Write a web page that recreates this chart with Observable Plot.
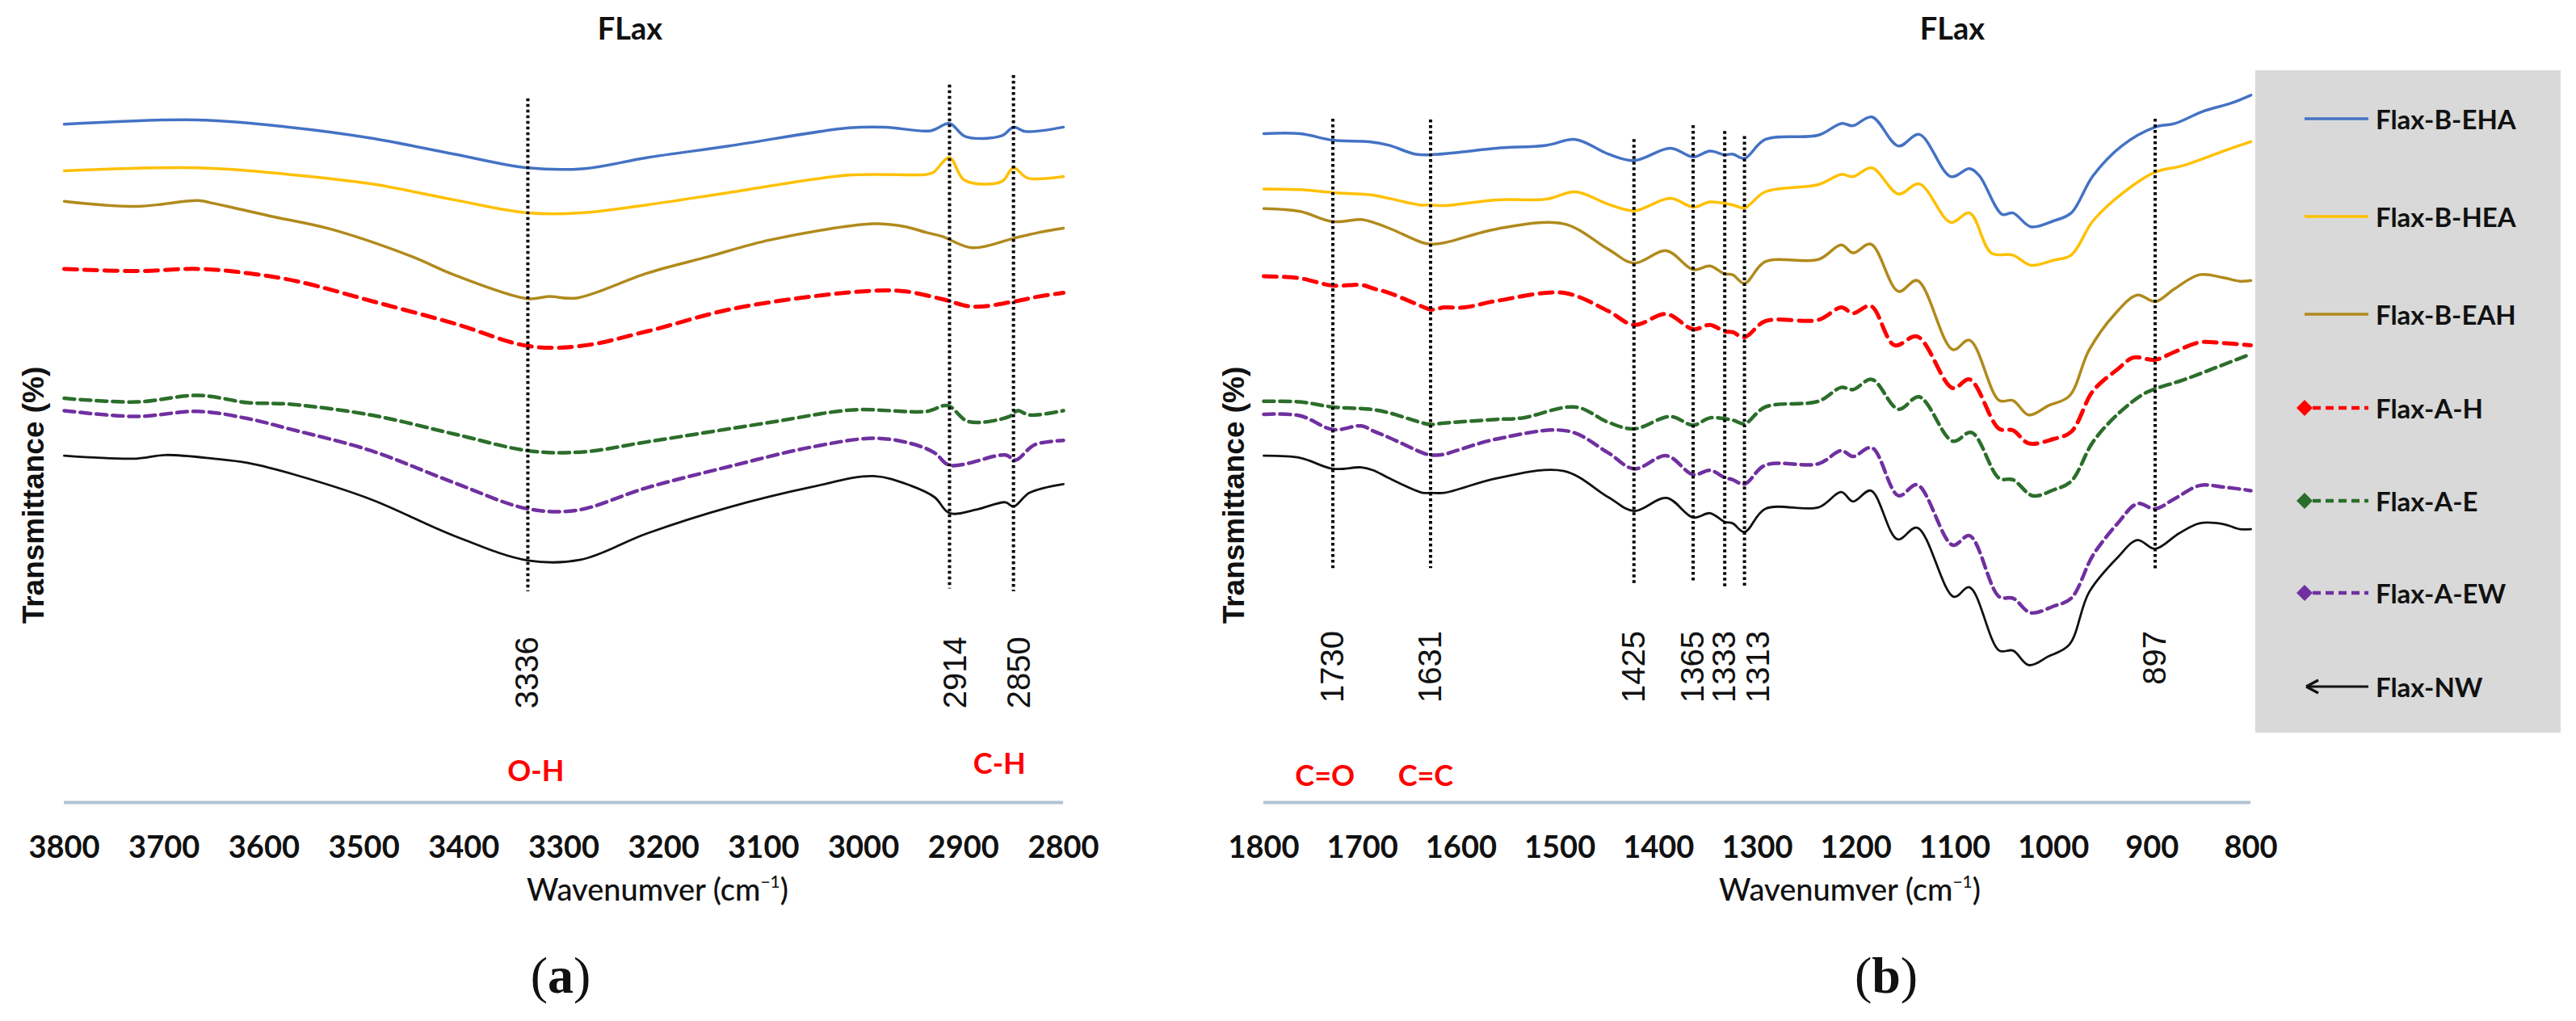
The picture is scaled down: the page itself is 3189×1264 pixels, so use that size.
<!DOCTYPE html>
<html><head><meta charset="utf-8">
<script src="https://cdn.jsdelivr.net/npm/d3@7"></script>
<script src="https://cdn.jsdelivr.net/npm/@observablehq/plot@0.6"></script>
<style>
html,body{margin:0;padding:0;background:#fff;}
#page{position:relative;width:3189px;height:1264px;overflow:hidden;background:#fff;font-family:Lato,sans-serif;color:#111;}
.abs{position:absolute;white-space:nowrap;line-height:1;}
.plot{position:absolute;top:0;}
.plot svg{overflow:visible;max-width:none;}
</style></head><body><div id="page"></div>
<script>
// ---------- DATA ----------
const seriesNames = ["Flax-B-EHA","Flax-B-HEA","Flax-B-EAH","Flax-A-H","Flax-A-E","Flax-A-EW","Flax-NW"];
const ticksA = [3800,3700,3600,3500,3400,3300,3200,3100,3000,2900,2800];
const ticksB = [1800,1700,1600,1500,1400,1300,1200,1100,1000,900,800];

// Panel (a): [wavenumber, transmittance (arbitrary offset %)]
const a_BEHA = [[3800,93.3],[3666,93.9],[3575,92.9],[3493,91.4],[3410,89.2],[3336,87.3],[3279,87.2],[3217,88.7],[3135,90.3],[3015,92.8],[2978,92.9],[2933,92.4],[2914,93.4],[2898,91.6],[2862,91.7],[2850,92.9],[2838,92.3],[2800,92.9]];
const a_BHEA = [[3800,86.9],[3666,87.3],[3575,86.4],[3493,85.1],[3410,82.9],[3336,81.1],[3283,81.1],[3217,82.2],[3135,83.9],[3015,86.3],[2937,86.4],[2930,86.7],[2914,88.7],[2899,85.6],[2862,85.4],[2850,87.3],[2836,85.9],[2800,86.1]];
const a_BEAH = [[3800,82.7],[3728,82.0],[3666,82.8],[3650,82.4],[3595,80.7],[3534,78.9],[3452,75.1],[3410,72.6],[3336,69.3],[3315,69.6],[3287,69.4],[3217,72.8],[3155,75.1],[3093,77.4],[2990,79.6],[2958,79.2],[2937,78.4],[2922,77.9],[2891,76.3],[2850,77.6],[2825,78.4],[2800,79.0]];
const a_AH = [[3800,73.4],[3728,73.1],[3666,73.4],[3616,72.8],[3567,71.7],[3493,69.0],[3410,65.9],[3336,62.8],[3283,62.8],[3217,64.8],[3135,67.8],[3052,69.6],[2990,70.4],[2958,70.3],[2920,69.2],[2891,68.2],[2850,68.9],[2825,69.6],[2800,70.1]];
const a_AE = [[3800,55.6],[3728,55.1],[3666,56.0],[3616,55.0],[3575,54.8],[3493,53.3],[3410,50.7],[3336,48.4],[3283,48.2],[3217,49.6],[3093,52.3],[3011,54.0],[2937,53.8],[2916,54.6],[2895,52.4],[2854,53.1],[2846,53.9],[2834,53.3],[2800,53.9]];
const a_AEW = [[3800,53.9],[3728,53.1],[3666,53.8],[3616,52.8],[3575,51.4],[3493,48.4],[3410,44.0],[3336,40.4],[3287,40.2],[3217,43.3],[3135,46.2],[3052,48.9],[2990,50.1],[2953,49.4],[2929,48.1],[2914,46.4],[2858,47.8],[2848,47.1],[2829,49.2],[2800,49.8]];
const a_NW = [[3800,47.7],[3728,47.3],[3699,47.8],[3650,47.3],[3616,46.7],[3567,45.0],[3493,41.7],[3410,36.7],[3336,33.3],[3283,33.4],[3217,37.0],[3135,40.6],[3052,43.4],[2990,44.9],[2953,43.6],[2929,42.0],[2914,39.8],[2887,40.3],[2858,41.3],[2850,40.7],[2834,42.6],[2800,43.8]];

// Panel (b)
const b_BEHA = [[1800,92.0],[1763,92.0],[1730,91.1],[1693,90.9],[1673,90.4],[1647,89.2],[1631,89.1],[1605,89.4],[1564,90.0],[1514,90.4],[1484,91.2],[1451,89.2],[1425,88.3],[1388,90.0],[1365,88.8],[1348,89.6],[1333,89.1],[1325,89.2],[1313,88.6],[1292,91.2],[1238,91.8],[1215,93.4],[1203,93.1],[1184,94.3],[1157,90.3],[1136,91.9],[1104,86.1],[1085,87.2],[1075,86.2],[1052,80.9],[1041,81.1],[1023,79.2],[1000,80.0],[982,81.1],[960,86.2],[931,90.3],[897,92.9],[877,93.4],[848,95.1],[820,96.2],[800,97.3]];
const b_BHEA = [[1800,84.4],[1763,84.3],[1730,83.9],[1693,83.6],[1673,83.1],[1642,82.2],[1631,82.2],[1617,82.1],[1564,82.9],[1514,83.0],[1484,84.0],[1451,82.3],[1425,81.4],[1388,83.1],[1365,81.9],[1348,82.6],[1325,82.2],[1313,81.8],[1292,84.0],[1238,85.0],[1215,86.4],[1203,86.1],[1184,87.3],[1157,83.7],[1136,85.1],[1104,79.8],[1085,81.1],[1063,75.6],[1041,75.3],[1023,73.9],[1000,74.6],[982,75.3],[960,80.0],[931,83.7],[897,86.7],[869,87.6],[828,89.6],[800,90.9]];
const b_BEAH = [[1800,81.7],[1763,81.3],[1730,79.9],[1701,80.2],[1689,79.8],[1673,79.0],[1639,77.0],[1631,76.8],[1617,77.0],[1564,78.9],[1496,79.6],[1451,76.1],[1425,74.2],[1392,75.9],[1365,73.3],[1348,73.8],[1333,72.7],[1325,72.6],[1313,71.4],[1292,74.4],[1238,74.7],[1215,76.7],[1203,75.6],[1185,76.8],[1157,70.3],[1138,71.8],[1102,62.3],[1085,63.6],[1055,55.3],[1041,55.3],[1025,53.3],[1005,54.6],[984,55.9],[964,62.2],[939,67.0],[915,69.8],[897,68.9],[877,70.7],[852,72.6],[828,72.2],[811,71.7],[800,71.8]];
const b_AH = [[1800,72.4],[1763,72.1],[1730,71.1],[1701,71.2],[1689,70.7],[1673,70.1],[1639,68.2],[1631,67.8],[1617,68.1],[1597,68.1],[1564,69.0],[1496,70.1],[1451,67.6],[1425,65.7],[1392,67.2],[1365,65.1],[1348,65.7],[1333,64.8],[1325,64.7],[1313,64.0],[1292,66.2],[1238,66.4],[1215,68.1],[1203,67.3],[1185,68.3],[1161,62.9],[1138,64.1],[1102,57.0],[1085,58.2],[1055,51.4],[1041,51.2],[1025,49.4],[1000,50.0],[982,51.0],[960,56.6],[935,59.6],[919,61.2],[897,60.9],[877,62.0],[852,63.3],[828,63.2],[800,62.9]];
const b_AE = [[1800,55.2],[1763,55.1],[1730,54.4],[1693,54.1],[1673,53.6],[1639,52.2],[1631,52.0],[1617,52.2],[1564,52.7],[1538,52.9],[1484,54.4],[1451,52.3],[1425,51.4],[1388,53.1],[1365,51.9],[1348,52.9],[1325,52.6],[1313,52.1],[1292,54.4],[1238,55.2],[1215,57.1],[1203,56.8],[1184,58.2],[1157,54.1],[1136,55.8],[1102,49.7],[1083,50.9],[1055,44.6],[1041,44.4],[1021,42.2],[1000,43.0],[982,44.2],[960,49.6],[935,53.4],[910,56.1],[897,56.9],[869,58.1],[836,59.8],[800,61.7]];
const b_AEW = [[1800,53.4],[1763,53.2],[1730,51.3],[1701,51.8],[1689,51.1],[1673,50.2],[1639,48.1],[1631,47.8],[1617,47.9],[1605,48.4],[1564,50.0],[1492,51.1],[1451,48.1],[1425,45.9],[1392,47.7],[1365,45.1],[1348,45.7],[1333,44.7],[1325,44.4],[1313,43.8],[1292,46.4],[1238,46.6],[1215,48.4],[1203,47.6],[1184,48.8],[1157,42.2],[1138,43.7],[1102,35.4],[1085,36.7],[1055,28.3],[1041,28.1],[1023,26.1],[1000,27.0],[982,28.1],[960,34.0],[935,38.4],[915,41.1],[897,40.4],[877,41.8],[852,43.6],[828,43.4],[800,42.9]];
const b_NW = [[1800,47.7],[1763,47.4],[1730,45.9],[1701,46.1],[1689,45.7],[1673,44.6],[1639,42.6],[1631,42.6],[1617,42.6],[1564,44.6],[1496,45.6],[1451,42.0],[1425,40.1],[1392,41.9],[1365,39.2],[1348,39.8],[1333,38.6],[1325,38.4],[1313,37.2],[1292,40.4],[1238,40.6],[1215,42.7],[1203,41.4],[1185,42.9],[1158,36.2],[1138,37.8],[1101,28.3],[1085,29.6],[1055,20.9],[1041,20.9],[1025,18.9],[1005,20.1],[984,21.7],[964,28.9],[935,33.7],[915,36.1],[897,34.9],[873,37.0],[852,38.4],[828,38.3],[811,37.6],[800,37.6]];

// Marked peaks (dotted guides): wavenumber, top and bottom of guide
const peaksA = [3336, 2914, 2850];
const peakTopA = [96.8, 98.7, 100.0];
const peakBotA = [29.0, 29.4, 29.0];
const peaksB = [1730, 1631, 1425, 1365, 1333, 1313, 897];
const peakTopB = [94.0, 93.9, 91.2, 93.1, 92.3, 91.6, 94.0];
const peakBotB = [32.2, 32.2, 30.1, 30.1, 29.6, 29.4, 31.8];

// Band assignments
const bandsA = ["O-H", "C-H"];
const bandWnA = [3328, 2864];
const bandsB = ["C=O", "C=C"];
const bandWnB = [1738, 1636];

// ---------- STYLE ----------
const styles = {
  "Flax-B-EHA": {stroke: "#4472C4", strokeWidth: 3.5},
  "Flax-B-HEA": {stroke: "#FFC000", strokeWidth: 3.5},
  "Flax-B-EAH": {stroke: "#B08A1C", strokeWidth: 3.5},
  "Flax-A-H":   {stroke: "#FF0000", strokeWidth: 5, strokeDasharray: "16,9"},
  "Flax-A-E":   {stroke: "#2B6E2B", strokeWidth: 4.5, strokeDasharray: "13,7"},
  "Flax-A-EW":  {stroke: "#7030A0", strokeWidth: 4.5, strokeDasharray: "13,7"},
  "Flax-NW":    {stroke: "#111111", strokeWidth: 2.8}
};

const page = document.getElementById("page");

function tidy(list) {
  return seriesNames.flatMap((n, i) => list[i].map(([wn, t]) => ({series: n, wn, t})));
}
const rowsA = tidy([a_BEHA, a_BHEA, a_BEAH, a_AH, a_AE, a_AEW, a_NW]);
const rowsB = tidy([b_BEHA, b_BHEA, b_BEAH, b_AH, b_AE, b_AEW, b_NW]);

function lineMarks(rows) {
  return seriesNames.slice().reverse().map(n =>
    Plot.line(rows.filter(r => r.series === n), {x: "wn", y: "t", curve: "catmull-rom", ...styles[n]}));
}

function panel({rows, ticks, domain, peaks, tops, bots, bands, bandWn, bandY, labelY, left, width, mL, mR, dxFor}) {
  const peakRows = peaks.map((p, i) => ({wn: p, top: tops[i], bot: bots[i]}));
  const bandRows = bands.map((b, i) => ({label: b, wn: bandWn[i], y: bandY[i]}));
  const plot = Plot.plot({
    width, height: 1080,
    marginLeft: mL, marginRight: mR, marginTop: 93, marginBottom: 87,
    x: {domain},
    y: {domain: [0, 100], axis: null},
    style: {background: "transparent", fontFamily: "Lato, sans-serif", overflow: "visible"},
    marks: [
      Plot.ruleY([0], {stroke: "#B4C3D6", strokeWidth: 4}),
      Plot.axisX({ticks, tickSize: 0, tickPadding: 42, fontSize: 38, fontWeight: "bold", fill: "#111", label: null, tickFormat: d => String(d)}),
      ...lineMarks(rows),
      Plot.ruleX(peakRows, {x: "wn", y1: "top", y2: "bot", stroke: "#000", strokeWidth: 4, strokeDasharray: "3.5,3.5"}),
      Plot.text(peakRows.filter(d => !dxFor.has(d.wn)), {x: "wn", y: () => labelY, text: d => String(d.wn), rotate: -90, textAnchor: "end", fontSize: 40, fontFamily: "Liberation Sans, Arial, sans-serif", fill: "#111"}),
      ...[...dxFor].filter(([k]) => peaks.includes(k)).map(([k, dx]) =>
        Plot.text(peakRows.filter(d => d.wn === k), {x: "wn", y: () => labelY, dx, text: d => String(d.wn), rotate: -90, textAnchor: "end", fontSize: 40, fontFamily: "Liberation Sans, Arial, sans-serif", fill: "#111"})),
      Plot.text(bandRows, {x: "wn", y: "y", text: "label", fill: "#FF0000", fontSize: 36, fontWeight: "bold", fontFamily: "Lato, sans-serif"})
    ]
  });
  const holder = document.createElement("div");
  holder.className = "plot";
  holder.style.left = left + "px";
  holder.style.width = width + "px";
  holder.appendChild(plot);
  page.appendChild(holder);
}

panel({rows: rowsA, ticks: ticksA, domain: [3800, 2800], peaks: peaksA, tops: peakTopA, bots: peakBotA,
  bands: bandsA, bandWn: bandWnA, bandY: [4.2, 5.2], labelY: 22.8, left: 0, width: 1560, mL: 79, mR: 244,
  dxFor: new Map([[2914, 8], [2850, 8]])});
panel({rows: rowsB, ticks: ticksB, domain: [1800, 800], peaks: peaksB, tops: peakTopB, bots: peakBotB,
  bands: bandsB, bandWn: bandWnB, bandY: [3.6, 3.6], labelY: 23.6, left: 1480, width: 1350, mL: 84, mR: 44,
  dxFor: new Map([[1313, 18]])});

// ---------- TEXT ----------
function label(html, cx, cy, css, rot) {
  const d = document.createElement("div");
  d.className = "abs";
  d.innerHTML = html;
  Object.assign(d.style, css);
  d.style.left = cx + "px";
  d.style.top = cy + "px";
  d.style.transform = "translate(-50%,-50%)" + (rot ? " rotate(-90deg)" : "");
  page.appendChild(d);
}
const titleCss = {fontFamily: "Lato, sans-serif", fontWeight: "bold", fontSize: "38px"};
label("FLax", 780, 34, titleCss);
label("FLax", 2417, 34, titleCss);
const yCss = {fontFamily: "Liberation Sans, Arial, sans-serif", fontWeight: "bold", fontSize: "37px"};
label("Transmittance (%)", 41, 613, yCss, true);
label("Transmittance (%)", 1527, 613, yCss, true);
const xCss = {fontFamily: "Lato, sans-serif", fontSize: "38px", fontWeight: "500"};
label("Wavenumver (cm<sup style='font-size:0.55em;vertical-align:0.75em'>−1</sup>)", 814, 1100, xCss);
label("Wavenumver (cm<sup style='font-size:0.55em;vertical-align:0.75em'>−1</sup>)", 2290, 1100, xCss);
const capCss = {fontFamily: "Liberation Serif, Times New Roman, serif", fontSize: "64px"};
label("(<b>a</b>)", 694, 1208, capCss);
label("(<b>b</b>)", 2335, 1208, capCss);

// ---------- LEGEND ----------
const box = document.createElement("div");
box.className = "abs";
Object.assign(box.style, {left: "2792px", top: "87px", width: "378px", height: "820px", background: "#D9D9D9"});
page.appendChild(box);
const legendY = [147, 268, 389, 505, 620, 734, 850];
seriesNames.forEach((n, i) => {
  const s = styles[n];
  const cy = legendY[i];
  const svg = d3.create("svg").attr("width", 100).attr("height", 40)
    .style("position", "absolute").style("left", "2838px").style("top", (cy - 20) + "px");
  const dashed = !!s.strokeDasharray;
  if (n === "Flax-NW") {
    svg.append("line").attr("x1", 19).attr("x2", 94).attr("y1", 20).attr("y2", 20).attr("stroke", s.stroke).attr("stroke-width", 3.2);
    svg.append("path").attr("d", "M17,20 L32,12 M17,20 L32,28").attr("stroke", s.stroke).attr("stroke-width", 3.2).attr("fill", "none");
  } else {
    svg.append("line").attr("x1", dashed ? 25 : 15).attr("x2", 94).attr("y1", 20).attr("y2", 20)
      .attr("stroke", s.stroke).attr("stroke-width", dashed ? 4.5 : 3.5)
      .attr("stroke-dasharray", dashed ? "10,6" : null);
    if (dashed) svg.append("path").attr("d", "M15,10 L25,20 L15,30 L5,20 Z").attr("fill", s.stroke);
  }
  page.appendChild(svg.node());
  label(n, 2941, cy, {fontFamily: "Lato, sans-serif", fontWeight: "bold", fontSize: "33px", transform: ""});
  page.lastChild.style.transform = "translate(0,-50%)";
});
</script></body></html>
